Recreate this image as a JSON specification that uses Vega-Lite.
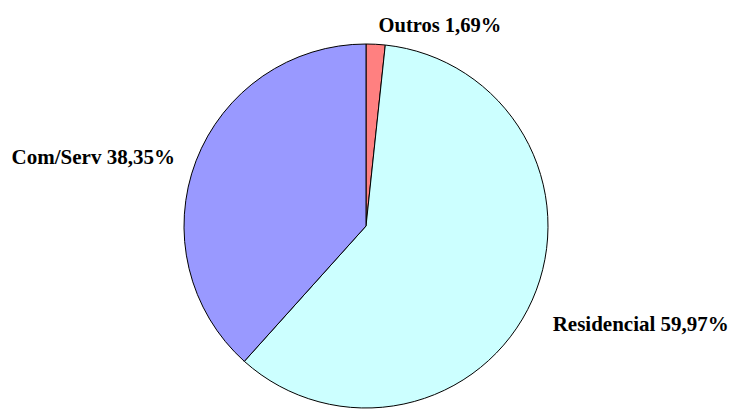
{
  "$schema": "https://vega.github.io/schema/vega-lite/v6.json",
  "width": 364,
  "height": 364,
  "autosize": "none",
  "padding": {"left": 184, "top": 44, "right": 187, "bottom": 1},
  "background": "white",
  "view": {"stroke": null},
  "data": {
    "values": [
      {"cat": "Outros", "value": 1.69, "idx": 1, "label": "Outros 1,69%"},
      {"cat": "Residencial", "value": 59.97, "idx": 2, "label": "Residencial 59,97%"},
      {"cat": "Com/Serv", "value": 38.35, "idx": 3, "label": "Com/Serv 38,35%"}
    ]
  },
  "encoding": {
    "theta": {"field": "value", "type": "quantitative", "stack": true},
    "order": {"field": "idx", "type": "quantitative"}
  },
  "layer": [
    {
      "mark": {"type": "arc", "stroke": "black", "strokeWidth": 1},
      "encoding": {
        "color": {
          "field": "cat",
          "type": "nominal",
          "scale": {"domain": ["Outros", "Residencial", "Com/Serv"], "range": ["#FF8080", "#CCFFFF", "#9999FF"]},
          "legend": null
        }
      }
    },
    {
      "mark": {"type": "text", "radius": 200, "align": "left", "baseline": "middle", "dx": 2, "dy": 0, "font": "'Liberation Serif', 'Times New Roman', serif", "fontWeight": "bold", "fontSize": 20.5, "color": "black"},
      "encoding": {"text": {"condition": {"test": "datum.cat === 'Outros'", "field": "label"}, "value": ""}}
    },
    {
      "mark": {"type": "text", "radius": 200, "align": "left", "baseline": "middle", "dx": 4, "dy": 18, "font": "'Liberation Serif', 'Times New Roman', serif", "fontWeight": "bold", "fontSize": 21, "color": "black"},
      "encoding": {"text": {"condition": {"test": "datum.cat === 'Residencial'", "field": "label"}, "value": ""}}
    },
    {
      "mark": {"type": "text", "radius": 195, "align": "right", "baseline": "middle", "dx": -9, "dy": 2, "font": "'Liberation Serif', 'Times New Roman', serif", "fontWeight": "bold", "fontSize": 21, "color": "black"},
      "encoding": {"text": {"condition": {"test": "datum.cat === 'Com/Serv'", "field": "label"}, "value": ""}}
    }
  ]
}
